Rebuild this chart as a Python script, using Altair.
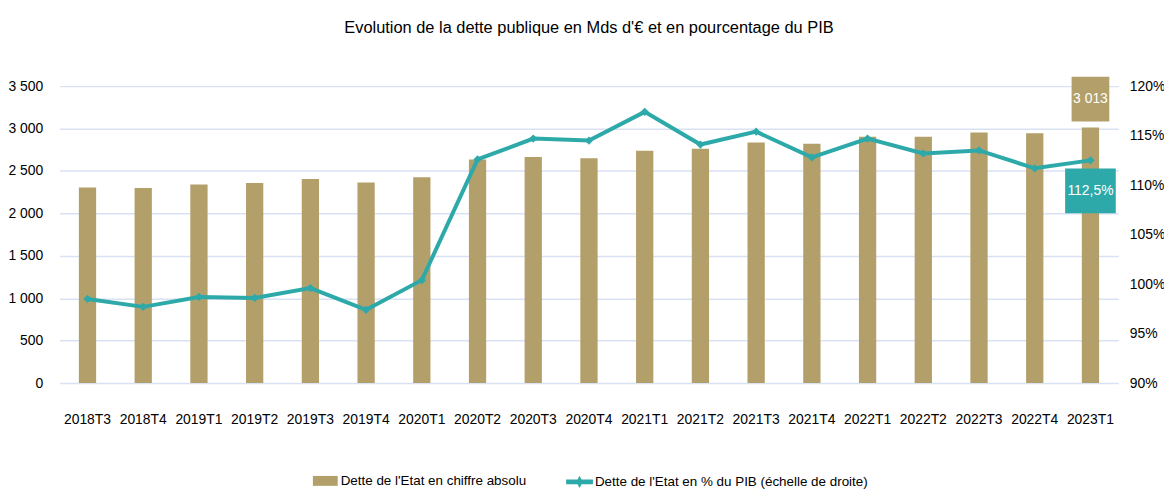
import altair as alt
import pandas as pd

quarters = ["2018T3", "2018T4", "2019T1", "2019T2", "2019T3", "2019T4", "2020T1",
            "2020T2", "2020T3", "2020T4", "2021T1", "2021T2", "2021T3", "2021T4",
            "2022T1", "2022T2", "2022T3", "2022T4", "2023T1"]
debt_bn = [2306, 2298, 2341, 2357, 2404, 2365, 2427, 2634, 2665, 2650, 2739,
           2763, 2837, 2821, 2903, 2903, 2954, 2946, 3013]
debt_pct_gdp = [98.5, 97.7, 98.7, 98.6, 99.6, 97.4, 100.4, 112.6, 114.7, 114.5,
                117.4, 114.1, 115.4, 112.8, 114.7, 113.2, 113.5, 111.7, 112.5]
left_ticks = [0, 500, 1000, 1500, 2000, 2500, 3000, 3500]
right_ticks = [90, 95, 100, 105, 110, 115, 120]
legend_labels = ["Dette de l'Etat en chiffre absolu",
                 "Dette de l'Etat en % du PIB (échelle de droite)"]
title_text = "Evolution de la dette publique en Mds d'€ et en pourcentage du PIB"

TAN = "#B39F6A"
TEAL = "#2EA9A9"
GRID = "#D9E1F4"
FONT = "Liberation Sans"

df = pd.DataFrame({
    "quarter": quarters,
    "debt": debt_bn,
    "pct": debt_pct_gdp,
    "leg_bar": legend_labels[0],
    "leg_line": legend_labels[1],
})

x = alt.X("quarter:N", sort=quarters,
          scale=alt.Scale(paddingInner=0.69, paddingOuter=0.345),
          axis=alt.Axis(title=None, labelAngle=0, labelFont=FONT, labelFontSize=14,
                        labelColor="#000000", labelPadding=30, ticks=False,
                        domain=False, grid=False))

y_left = alt.Y("debt:Q",
               scale=alt.Scale(domain=[0, 3500], nice=False, zero=True),
               axis=alt.Axis(title=None, values=left_ticks,
                             labelExpr="replace(format(datum.value, ','), ',', ' ')",
                             labelFont=FONT, labelFontSize=14, labelColor="#000000",
                             labelPadding=17, ticks=False, domain=False,
                             grid=True, gridColor=GRID, gridWidth=1.5))

y_right = alt.Y("pct:Q",
                scale=alt.Scale(domain=[90, 120], nice=False, zero=False),
                axis=alt.Axis(title=None, orient="right", values=right_ticks,
                              labelExpr="format(datum.value, 'd') + '%'",
                              labelFont=FONT, labelFontSize=14, labelColor="#000000",
                              labelPadding=11, ticks=False, domain=False, grid=False))

BOX_TAN = "M-0.844,-1H0.844V1H-0.844Z"
BOX_TEAL = "M-1.133,-1H1.133V1H-1.133Z"
LEG_BAR = "M-1,-0.4H1V0.4H-1Z"
LEG_LINE = "M-1,-0.17H1V0.17H-1Z M0,-0.46L0.24,0L0,0.46L-0.24,0Z"

base = alt.Chart(df).encode(x=x)
last = alt.datum.quarter == quarters[-1]

bars = base.mark_bar().encode(
    y=y_left,
    color=alt.Color("leg_bar:N",
                    scale=alt.Scale(domain=[legend_labels[0]], range=[TAN]),
                    legend=alt.Legend(title=None, orient="none", legendX=255, legendY=385,
                                      symbolType=LEG_BAR, symbolSize=625,
                                      symbolStrokeWidth=0, labelFont=FONT,
                                      labelFontSize=13.5, labelColor="#000000",
                                      labelOffset=3, padding=0, labelLimit=400)),
)

box_tan = base.mark_point(shape=BOX_TAN, size=2025, filled=True, color=TAN,
                          opacity=1, strokeWidth=0, yOffset=-28.6).transform_filter(
    last).encode(y=y_left)

text_tan = base.mark_text(color="white", font=FONT, fontSize=14, baseline="middle",
                          align="center", yOffset=-28.6).transform_filter(
    last).transform_calculate(
    lbl="replace(format(datum.debt, ','), ',', ' ')").encode(y=y_left, text="lbl:N")

line = base.mark_line(strokeWidth=4,
                      point=alt.OverlayMarkDef(shape="diamond", size=70, filled=True,
                                               opacity=1)).encode(
    y=y_right,
    color=alt.Color("leg_line:N",
                    scale=alt.Scale(domain=[legend_labels[1]], range=[TEAL]),
                    legend=alt.Legend(title=None, orient="none", legendX=510, legendY=385,
                                      symbolType=LEG_LINE, symbolSize=729,
                                      symbolFillColor=TEAL, symbolStrokeWidth=0,
                                      labelFont=FONT, labelFontSize=13.5,
                                      labelColor="#000000", labelOffset=2,
                                      padding=0, labelLimit=500)),
)

box_teal = base.mark_point(shape=BOX_TEAL, size=2025, filled=True, color=TEAL,
                           opacity=1, strokeWidth=0, yOffset=30.8).transform_filter(
    last).encode(y=y_right)

text_teal = base.mark_text(color="white", font=FONT, fontSize=14, baseline="middle",
                           align="center", yOffset=30.8).transform_filter(
    last).transform_calculate(
    lbl="replace(format(datum.pct, '.1f'), '.', ',') + '%'").encode(y=y_right, text="lbl:N")

left = alt.layer(bars, box_tan, text_tan)
right = alt.layer(line, box_teal, text_teal)

chart = alt.layer(left, right).resolve_scale(
    y="independent", color="independent"
).properties(
    width=1066, height=299,
    title=alt.TitleParams(text=title_text, font=FONT, fontSize=16.5, fontWeight="normal",
                          color="#000000", anchor="middle", baseline="bottom", offset=25),
    autosize=alt.AutoSizeParams(type="none"),
    padding={"left": 52, "top": 77, "right": 46, "bottom": 107},
).configure_view(stroke=None)

chart.save("out.html", embed_options={"renderer": "svg", "actions": False})
